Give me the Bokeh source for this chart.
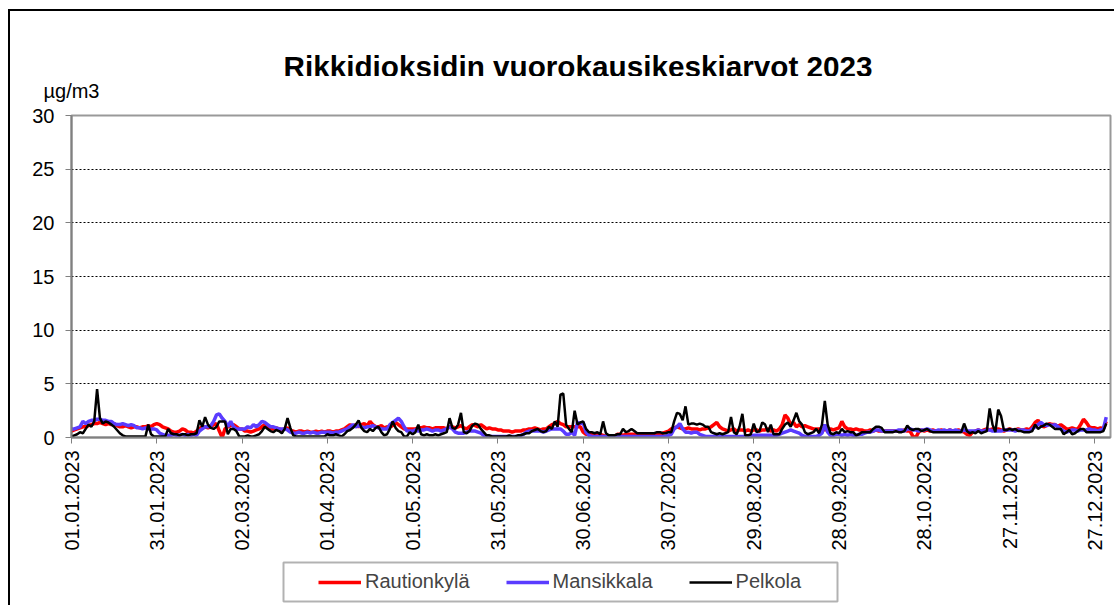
from math import pi
from bokeh.plotting import figure
from bokeh.layouts import column
from bokeh.models import Range1d, FixedTicker, Legend, LegendItem, Label, BoxAnnotation, LinearAxis
from bokeh.embed import file_html
from bokeh.resources import INLINE

title_text = "Rikkidioksidin vuorokausikeskiarvot 2023"
unit_text = "µg/m3"
tick_days = [0, 30, 60, 90, 120, 150, 180, 210, 240, 270, 300, 330, 360]
tick_labels = ["01.01.2023", "31.01.2023", "02.03.2023", "01.04.2023", "01.05.2023",
               "31.05.2023", "30.06.2023", "30.07.2023", "29.08.2023", "28.09.2023",
               "28.10.2023", "27.11.2023", "27.12.2023"]
y_ticks = [0, 5, 10, 15, 20, 25, 30]
grid_ticks = [5, 10, 15, 20, 25]
series_names = ["Rautionkylä", "Mansikkala", "Pelkola"]

rautionkyla = [
    0.6, 0.7, 0.8, 0.9, 1.0, 1.0, 1.1, 1.2, 1.3, 1.3,
    1.4, 1.3, 1.2, 1.3, 1.2, 1.3, 1.1, 1.0, 1.0, 1.1,
    1.0, 0.9, 1.0, 1.0, 0.9, 1.0, 1.0, 1.1, 1.0, 1.2,
    1.3, 1.2, 1.0, 0.9, 0.8, 0.6, 0.5, 0.5, 0.6, 0.8,
    0.7, 0.5, 0.5, 0.4, 0.6, 0.8, 1.0, 1.0, 0.9, 1.0,
    1.2, 1.3, 0.6, 0.0, 0.8, 1.0, 1.1, 1.2, 1.0, 0.8,
    0.8, 0.6, 0.6, 0.5, 0.6, 0.7, 0.8, 1.0, 1.2, 1.0,
    0.8, 0.8, 0.9, 0.8, 0.7, 0.8, 0.9, 0.6, 0.6, 0.5,
    0.6, 0.6, 0.5, 0.6, 0.5, 0.5, 0.6, 0.5, 0.6, 0.5,
    0.6, 0.6, 0.5, 0.6, 0.6, 0.7, 0.8, 1.0, 1.2, 1.0,
    1.2, 1.0, 1.2, 1.3, 1.1, 1.5, 1.2, 1.0, 1.0, 1.1,
    0.9, 1.0, 1.0, 1.1, 1.4, 1.2, 1.0, 0.8, 0.8, 0.8,
    0.8, 0.8, 0.9, 0.9, 1.0, 0.9, 0.9, 0.8, 0.9, 0.9,
    0.9, 0.9, 0.8, 1.0, 1.0, 0.9, 1.0, 1.1, 0.9, 0.8,
    1.0, 1.2, 1.1, 1.0, 1.2, 1.0, 0.8, 0.9, 0.8, 0.8,
    0.7, 0.7, 0.6, 0.6, 0.6, 0.5, 0.6, 0.6, 0.6, 0.7,
    0.7, 0.8, 0.8, 0.9, 0.8, 0.7, 0.8, 0.8, 1.0, 1.2,
    1.3, 1.5, 1.3, 1.2, 1.0, 1.0, 1.0, 1.0, 1.0, 1.0,
    0.5, 0.3, 0.3, 0.3, 0.2, 0.3, 0.3, 0.2, 0.1, 0.1,
    0.1, 0.1, 0.3, 0.3, 0.2, 0.3, 0.3, 0.3, 0.3, 0.3,
    0.3, 0.3, 0.3, 0.3, 0.3, 0.3, 0.3, 0.3, 0.4, 0.5,
    0.6, 0.8, 0.9, 1.0, 0.9, 0.8, 0.8, 0.9, 0.8, 0.8,
    0.8, 0.7, 0.8, 0.8, 0.9, 1.0, 1.2, 1.4, 1.0, 0.8,
    0.7, 0.6, 0.7, 0.8, 0.6, 0.7, 0.7, 0.6, 0.7, 0.6,
    0.7, 0.7, 0.6, 0.7, 0.7, 0.8, 0.6, 0.7, 0.6, 0.8,
    1.2, 2.1, 1.8, 1.2, 1.4, 1.0, 1.2, 1.0, 1.1, 1.0,
    0.9, 0.8, 0.8, 0.8, 0.8, 0.7, 0.8, 0.8, 0.7, 0.8,
    0.9, 1.5, 1.0, 0.8, 0.8, 0.7, 0.8, 0.7, 0.7, 0.6,
    0.6, 0.7, 0.6, 0.7, 0.6, 0.6, 0.6, 0.6, 0.6, 0.6,
    0.6, 0.6, 0.6, 0.7, 0.6, 0.6, 0.1, 0.0, 0.5, 0.7,
    0.6, 0.7, 0.6, 0.7, 0.6, 0.6, 0.7, 0.6, 0.6, 0.7,
    0.6, 0.6, 0.7, 0.6, 0.5, 0.3, 0.2, 0.5, 0.6, 0.7,
    0.6, 0.7, 0.8, 0.7, 0.8, 0.7, 0.8, 0.7, 0.6, 0.7,
    0.8, 0.7, 0.7, 0.8, 0.7, 0.7, 0.8, 0.7, 1.0, 1.4,
    1.6, 1.2, 1.0, 1.1, 1.3, 1.2, 1.2, 1.0, 1.2, 1.0,
    0.8, 0.8, 0.9, 0.8, 0.8, 1.2, 1.7, 1.4, 1.0, 0.9,
    0.9, 0.8, 0.9, 0.8, 1.5,
]

mansikkala = [
    0.8, 0.8, 0.9, 1.0, 1.5, 1.3, 1.5, 1.6, 1.6, 1.7,
    1.7, 1.6, 1.6, 1.5, 1.5, 1.3, 1.2, 1.2, 1.3, 1.2,
    1.1, 1.2, 1.1, 0.9, 0.9, 0.8, 0.9, 0.8, 0.8, 0.8,
    0.7, 0.4, 0.3, 0.2, 0.2, 0.2, 0.3, 0.2, 0.2, 0.3,
    0.2, 0.3, 0.2, 0.3, 0.2, 0.6, 0.8, 1.0, 1.0, 1.1,
    1.5, 2.1, 2.2, 1.8, 1.5, 1.0, 1.5, 1.0, 0.8, 0.8,
    0.8, 0.8, 1.0, 0.9, 1.2, 1.0, 1.2, 1.5, 1.4, 1.2,
    1.0, 1.0, 0.9, 0.8, 0.8, 0.8, 0.7, 0.5, 0.4, 0.4,
    0.5, 0.4, 0.4, 0.5, 0.4, 0.5, 0.4, 0.4, 0.5, 0.5,
    0.5, 0.5, 0.4, 0.5, 0.5, 0.6, 0.7, 0.8, 1.0, 1.2,
    1.0, 1.1, 1.0, 0.9, 1.0, 1.0, 1.1, 1.0, 0.9, 0.8,
    0.8, 0.8, 1.2, 1.4, 1.6, 1.8, 1.5, 1.0, 0.6, 0.6,
    0.6, 0.7, 0.6, 0.7, 0.7, 0.8, 0.7, 0.6, 0.7, 0.7,
    0.6, 0.7, 0.8, 1.0, 0.8, 0.5, 0.4, 0.4, 0.4, 0.5,
    0.6, 0.6, 0.6, 0.5, 0.4, 0.2, 0.1, 0.1, 0.1, 0.1,
    0.1, 0.1, 0.1, 0.1, 0.1, 0.1, 0.1, 0.1, 0.2, 0.3,
    0.5, 0.6, 0.6, 0.6, 0.6, 0.6, 0.5, 0.6, 0.7, 0.8,
    0.8, 0.8, 0.8, 0.6, 0.3, 0.3, 0.5, 0.2, 1.4, 1.3,
    1.4, 0.5, 0.2, 0.1, 0.1, 0.1, 0.1, 0.1, 0.1, 0.1,
    0.1, 0.1, 0.1, 0.1, 0.1, 0.1, 0.1, 0.1, 0.1, 0.1,
    0.1, 0.1, 0.1, 0.1, 0.1, 0.1, 0.1, 0.1, 0.1, 0.1,
    0.2, 0.3, 0.8, 1.0, 1.3, 0.8, 0.5, 0.5, 0.4, 0.5,
    0.5, 0.3, 0.2, 0.1, 0.1, 0.1, 0.1, 0.1, 0.1, 0.1,
    0.1, 0.1, 0.1, 0.1, 0.1, 0.1, 0.1, 0.1, 0.1, 0.1,
    0.2, 0.2, 0.2, 0.2, 0.2, 0.2, 0.2, 0.2, 0.2, 0.3,
    0.4, 0.5, 0.6, 0.7, 0.6, 0.5, 0.4, 0.2, 0.1, 0.1,
    0.1, 0.1, 0.1, 0.2, 0.4, 1.2, 0.5, 0.2, 0.2, 0.3,
    0.3, 0.2, 0.3, 0.2, 0.3, 0.2, 0.2, 0.3, 0.3, 0.4,
    0.5, 0.5, 0.6, 0.7, 0.7, 0.6, 0.6, 0.6, 0.6, 0.6,
    0.6, 0.7, 0.7, 0.6, 0.8, 0.8, 0.7, 0.7, 0.6, 0.7,
    0.7, 0.8, 0.7, 0.6, 0.6, 0.7, 0.6, 0.7, 0.6, 0.7,
    0.6, 0.7, 0.6, 0.6, 0.7, 0.6, 0.6, 0.6, 0.6, 0.7,
    0.6, 0.6, 0.7, 0.7, 0.6, 0.6, 0.6, 0.6, 0.7, 0.7,
    0.7, 0.7, 0.6, 0.7, 0.7, 0.7, 0.6, 0.6, 0.8, 1.0,
    1.2, 1.4, 1.2, 1.1, 1.2, 1.1, 1.2, 1.0, 0.8, 0.6,
    0.5, 0.6, 0.7, 0.7, 0.6, 0.7, 0.7, 0.7, 0.8, 0.7,
    0.7, 0.6, 0.7, 0.8, 1.9,
]

pelkola = [
    0.1, 0.2, 0.3, 0.5, 0.4, 0.8, 1.2, 1.0, 1.5, 4.5,
    1.8, 1.3, 1.5, 1.4, 1.2, 1.0, 0.7, 0.4, 0.2, 0.1,
    0.1, 0.1, 0.1, 0.1, 0.1, 0.1, 0.1, 1.2, 0.3, 0.1,
    0.1, 0.1, 0.1, 0.1, 0.8, 0.4, 0.3, 0.3, 0.2, 0.3,
    0.3, 0.2, 0.3, 0.3, 0.4, 1.6, 1.0, 1.9, 1.2, 0.9,
    0.8, 1.0, 1.5, 1.5, 1.5, 0.3, 0.8, 0.8, 0.6, 0.1,
    0.1, 0.1, 0.2, 0.1, 0.1, 0.2, 0.3, 0.6, 1.0, 0.8,
    0.6, 0.5, 0.7, 0.6, 0.4, 0.8, 1.8, 0.9, 0.2, 0.1,
    0.1, 0.1, 0.1, 0.1, 0.1, 0.1, 0.1, 0.1, 0.1, 0.1,
    0.3, 0.2, 0.2, 0.3, 0.2, 0.1, 0.3, 0.6, 0.7, 0.9,
    1.2, 1.6, 0.9, 0.6, 0.5, 0.8, 0.6, 0.9, 1.0, 0.5,
    0.2, 0.3, 0.8, 1.5, 0.9, 0.6, 0.5, 0.1, 0.1, 0.5,
    0.3, 0.5, 1.2, 0.3, 0.2, 0.3, 0.2, 0.2, 0.3, 0.2,
    0.3, 0.4, 0.5, 1.8, 0.9, 0.8, 1.2, 2.3, 0.5, 0.4,
    0.6, 1.1, 1.3, 1.2, 0.8, 0.5, 0.2, 0.2, 0.1, 0.1,
    0.1, 0.1, 0.1, 0.1, 0.2, 0.1, 0.1, 0.2, 0.2, 0.3,
    0.4, 0.4, 0.6, 0.7, 0.8, 0.6, 0.5, 0.6, 1.0, 0.8,
    1.5, 1.0, 4.0, 4.1, 1.2, 0.8, 0.5, 2.5, 1.2, 1.4,
    1.5, 0.8, 0.5, 0.5, 0.4, 0.5, 0.3, 1.5, 0.4, 0.2,
    0.2, 0.2, 0.3, 0.3, 0.8, 0.5, 0.6, 0.8, 0.6, 0.4,
    0.4, 0.4, 0.4, 0.4, 0.4, 0.4, 0.5, 0.5, 0.4, 0.4,
    0.5, 0.5, 1.5, 2.3, 2.2, 1.6, 2.9, 1.2, 1.3, 1.3,
    1.2, 1.3, 1.2, 1.0, 1.0, 0.5, 0.4, 0.3, 0.4, 0.3,
    0.4, 0.5, 1.9, 0.5, 0.3, 1.0, 2.2, 0.2, 0.2, 0.3,
    1.3, 0.5, 0.6, 1.4, 1.2, 0.5, 1.2, 0.3, 0.3, 0.3,
    0.8, 1.2, 1.4, 1.0, 1.6, 2.3, 1.5, 1.2, 0.5, 0.3,
    0.4, 0.5, 0.8, 0.4, 1.2, 3.4, 1.2, 0.4, 0.3, 0.5,
    0.4, 0.8, 0.5, 0.6, 0.5, 0.5, 0.2, 0.3, 0.5, 0.5,
    0.5, 0.5, 0.8, 1.0, 1.0, 0.9, 0.5, 0.5, 0.5, 0.5,
    0.6, 0.5, 0.5, 0.6, 1.1, 0.8, 0.7, 0.8, 0.8, 0.6,
    0.7, 0.8, 0.6, 0.5, 0.5, 0.5, 0.5, 0.5, 0.5, 0.5,
    0.5, 0.5, 0.5, 0.5, 1.3, 0.6, 0.4, 0.5, 0.4, 0.6,
    0.4, 0.5, 0.6, 2.7, 1.2, 0.5, 2.6, 2.0, 0.7, 0.7,
    0.8, 0.7, 0.8, 0.6, 0.6, 0.5, 0.5, 0.5, 0.6, 1.2,
    0.8, 1.0, 1.1, 1.3, 1.2, 1.0, 0.8, 0.8, 0.8, 0.3,
    0.5, 0.7, 0.3, 0.4, 0.6, 0.8, 0.8, 0.5, 0.5, 0.5,
    0.5, 0.5, 0.5, 0.6, 1.3,
]

FONT = "Liberation Sans"
W = 1104
FRAME_W = 1039          # inner frame width shared by all stacked figures
colors = ["#FF0000", "#5A3CFF", "#000000"]
widths = [3.5, 3.5, 2.5]

# ---------- header strip: title only (frame fills the whole strip) ----------
HEAD_H = 65
header = figure(width=W, height=HEAD_H, x_range=Range1d(0, FRAME_W), y_range=Range1d(0, HEAD_H),
                x_axis_type=None, y_axis_type=None, output_backend="svg",
                toolbar_location=None, title_location=None,
                min_border_left=61, min_border_right=4, min_border_top=0, min_border_bottom=0,
                outline_line_color=None)
header.xgrid.visible = False
header.ygrid.visible = False
header.add_layout(Label(x=212, y=10, text=title_text, text_align="left",
                        text_baseline="alphabetic", text_font=FONT, text_font_size="29.7px",
                        text_font_style="bold", text_color="black"))

# ---------- main chart ----------
p = figure(width=W, height=479,
           x_range=Range1d(0, 365.5), y_range=Range1d(0, 30),
           output_backend="svg", toolbar_location=None, title_location=None,
           min_border_left=61, min_border_right=4,
           min_border_top=37, min_border_bottom=118,
           background_fill_color="white", border_fill_color="white")
p.outline_line_color = "#999999"
p.outline_line_width = 2

p.xaxis.ticker = FixedTicker(ticks=tick_days)
p.xaxis.major_label_overrides = {d: lab for d, lab in zip(tick_days, tick_labels)}
p.xaxis.major_label_orientation = pi / 2
p.yaxis.ticker = FixedTicker(ticks=y_ticks)
for ax in (p.xaxis, p.yaxis):
    ax.axis_line_color = "#808080"
    ax.axis_line_width = 2
    ax.major_tick_line_color = "#808080"
    ax.major_tick_line_width = 1
    ax.major_tick_out = 6
    ax.major_tick_in = 0
    ax.minor_tick_line_color = None
    ax.major_label_text_font = FONT
    ax.major_label_text_font_size = "20px"
    ax.major_label_text_color = "black"
p.xaxis.major_label_standoff = 7
p.yaxis.major_label_standoff = 11

# unit label: a bare axis above the frame whose single tick label is the unit
unit_axis = LinearAxis(ticker=FixedTicker(ticks=[0]),
                       major_label_overrides={0: unit_text},
                       axis_line_color=None, major_tick_line_color=None,
                       minor_tick_line_color=None, major_tick_out=0, major_tick_in=0,
                       major_label_standoff=14, major_label_text_font=FONT,
                       major_label_text_font_size="20px", major_label_text_color="black")
p.add_layout(unit_axis, "above")

p.xgrid.visible = False
p.ygrid.ticker = FixedTicker(ticks=grid_ticks)
p.ygrid.grid_line_color = "black"
p.ygrid.grid_line_dash = "2 2"
p.ygrid.grid_line_width = 1

for name, vals, c, w in zip(series_names, [rautionkyla, mansikkala, pelkola], colors, widths):
    xs = list(range(len(vals)))
    p.line(xs, vals, line_color=c, line_width=w)

# ---------- legend strip ----------
LEG_H = 50
legfig = figure(width=W, height=LEG_H, x_range=Range1d(0, FRAME_W), y_range=Range1d(0, LEG_H),
                x_axis_type=None, y_axis_type=None, output_backend="svg",
                toolbar_location=None, title_location=None,
                min_border_left=61, min_border_right=4, min_border_top=0, min_border_bottom=0,
                outline_line_color=None)
legfig.xgrid.visible = False
legfig.ygrid.visible = False
legfig.add_layout(BoxAnnotation(left=212, right=766, bottom=LEG_H - 46, top=LEG_H - 7,
                                fill_color="white", fill_alpha=1.0,
                                line_color="black", line_width=2))
nan = float("nan")
sample = [legfig.line([nan], [nan], line_color=c, line_width=w) for c, w in zip(colors, widths)]
legend = Legend(items=[LegendItem(label=n, renderers=[r]) for n, r in zip(series_names, sample)],
                orientation="horizontal", location=(247, 12),
                label_text_font=FONT, label_text_font_size="20px",
                glyph_width=43, glyph_height=20, label_standoff=4, spacing=36,
                padding=0, margin=0, border_line_color=None,
                background_fill_alpha=0.0)
legfig.add_layout(legend, "center")

layout = column(header, p, legfig, spacing=0)
layout.styles = {"margin-left": "8px", "margin-top": "9px",
                 "border-left": "2px solid black", "border-top": "2px solid black"}

open("out.html", "w").write(file_html(layout, INLINE))
